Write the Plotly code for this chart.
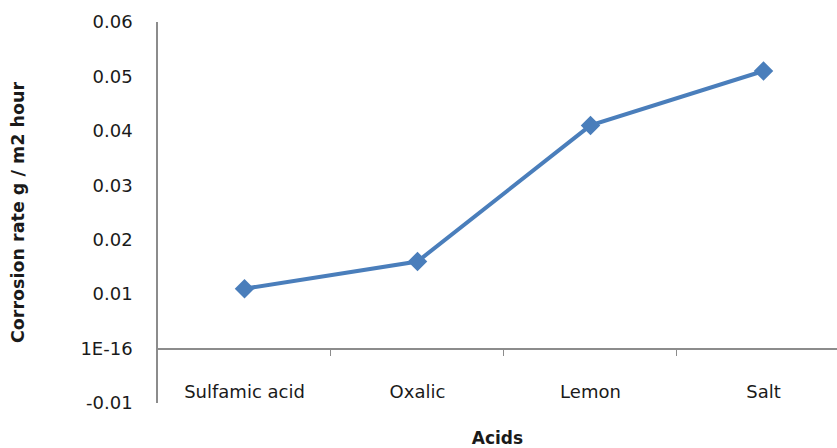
import plotly.graph_objects as go

# Corrosion rate for each acid
acids = ["Sulfamic acid", "Oxalic", "Lemon", "Salt"]
corrosion_rate = [0.011, 0.016, 0.041, 0.051]

y_tickvals = [-0.01, 0, 0.01, 0.02, 0.03, 0.04, 0.05, 0.06]
y_ticktext = ["-0.01", "1E-16", "0.01", "0.02", "0.03", "0.04", "0.05", "0.06"]

axis_grey = "#8c8c8c"
font_family = "'DejaVu Sans', sans-serif"

x_pos = list(range(len(acids)))
boundaries = [i + 0.5 for i in x_pos[:-1]]

fig = go.Figure()
fig.add_trace(go.Scatter(
    x=x_pos,
    y=corrosion_rate,
    mode="lines+markers",
    line=dict(color="#4a7ebb", width=4),
    marker=dict(symbol="diamond", size=15, color="#4a7ebb"),
    showlegend=False,
    hoverinfo="x+y",
))

x_range = [-0.5, 3.425]
y_range = [-0.01, 0.06]

fig.update_layout(
    width=837,
    height=448,
    margin=dict(l=158, r=0, t=22, b=43),
    paper_bgcolor="white",
    plot_bgcolor="white",
    font=dict(family=font_family, color="#1a1a1a", size=18),
    # bottom axis: only carries the title
    xaxis=dict(
        range=x_range,
        showticklabels=False,
        ticks="",
        showline=False,
        showgrid=False,
        zeroline=False,
        title=dict(text="<b>Acids</b>", font=dict(size=17), standoff=33),
    ),
    # axis line at y = 0 with tick marks between categories
    xaxis2=dict(
        overlaying="x",
        anchor="free",
        position=(0 - y_range[0]) / (y_range[1] - y_range[0]),
        range=x_range,
        tickvals=boundaries,
        showticklabels=False,
        ticks="outside",
        ticklen=7,
        tickwidth=1.3,
        tickcolor=axis_grey,
        showline=True,
        linecolor=axis_grey,
        linewidth=1.5,
        showgrid=False,
        zeroline=False,
    ),
    # category labels, placed low in the plot area
    xaxis3=dict(
        overlaying="x",
        anchor="free",
        position=0.062,
        range=x_range,
        tickvals=x_pos,
        ticktext=acids,
        ticks="",
        showline=False,
        showgrid=False,
        zeroline=False,
        tickfont=dict(size=18),
    ),
    yaxis=dict(
        range=y_range,
        tickvals=y_tickvals,
        ticktext=y_ticktext,
        ticks="",
        showline=True,
        linecolor=axis_grey,
        linewidth=1.5,
        showgrid=False,
        zeroline=False,
        tickfont=dict(size=18),
        ticklabelstandoff=20,
        title=dict(text="<b>Corrosion rate g / m2 hour</b>", font=dict(size=17.5), standoff=51),
    ),
)

# invisible traces so the overlay axes are rendered
fig.add_trace(go.Scatter(x=[None], y=[None], xaxis="x2", showlegend=False, hoverinfo="skip"))
fig.add_trace(go.Scatter(x=[None], y=[None], xaxis="x3", showlegend=False, hoverinfo="skip"))

fig.write_html("out.html")
